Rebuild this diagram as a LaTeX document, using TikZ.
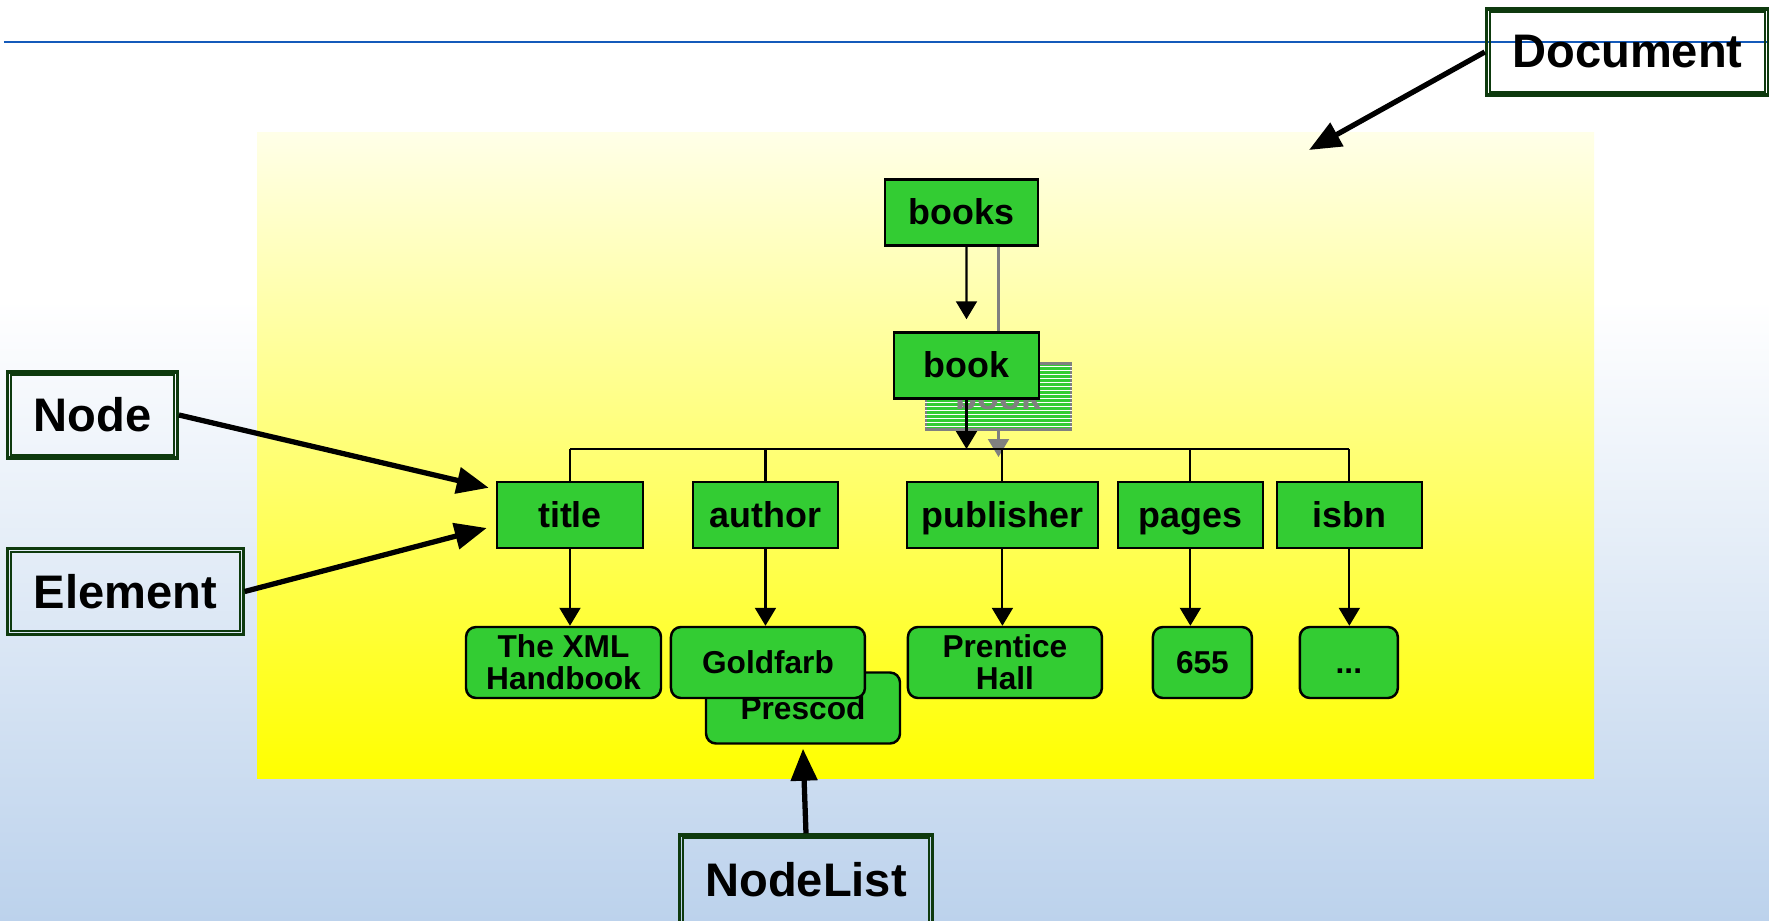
\documentclass[tikz,border=0pt]{standalone}
\usepackage{fontspec}
\setmainfont{Liberation Sans}
\usetikzlibrary{arrows.meta,positioning}
\definecolor{nodeGreen}{RGB}{51,204,51}
\definecolor{frameGreen}{RGB}{14,58,14}
\definecolor{skyBlue}{RGB}{188,210,236}
\definecolor{ruleBlue}{RGB}{20,90,186}
\definecolor{paleYellow}{RGB}{255,255,232}
\definecolor{ghostGray}{RGB}{128,128,128}

\begin{document}
\begin{tikzpicture}[
  element/.style={draw, line width=0.7pt, fill=nodeGreen, minimum width=1.45cm, minimum height=0.66cm, inner sep=0pt, text height=7.6pt, text depth=0.5pt, font=\fontsize{10.2}{12}\selectfont\bfseries},
  leaf/.style={draw, line width=0.7pt, rounded corners=0.1cm, fill=nodeGreen, minimum width=1.94cm, minimum height=0.71cm, inner sep=0pt, align=center, font=\fontsize{9}{9.2}\selectfont\bfseries},
  tagbox/.style={draw=frameGreen, line width=0.9pt, minimum height=0.86cm, inner xsep=0.26cm, font=\fontsize{13.4}{16}\selectfont\bfseries},
  arrow/.style={-{Triangle[length=1.8mm, width=2.1mm]}, line width=0.6pt},
  bigarrow/.style={-{Triangle[length=3.2mm, width=2.6mm]}, line width=1.5pt},
  link/.style={line width=0.6pt}
]
  \useasboundingbox (0,0) rectangle (17.69,-9.21);

  % background and document area
  \fill[white] (0,0) rectangle (17.69,-3.0);
  \shade[top color=white, bottom color=skyBlue] (0,-3.0) rectangle (17.69,-9.21);
  \draw[ruleBlue, line width=0.7pt] (0.04,-0.42) -- (17.69,-0.42);
  \shade[top color=paleYellow, bottom color=yellow] (2.57,-1.33) rectangle (15.94,-7.78);

  % tree
  \node[element, minimum width=1.53cm] (books) at (9.615,-2.125) {books};
  \node[element, draw=ghostGray] (ghost) at (9.985,-3.965) {};
  \foreach \k in {1,...,16}
    \draw[white, line width=0.4pt] ([yshift=-\k*0.4mm]ghost.north west) -- ([yshift=-\k*0.4mm]ghost.north east);
  \node[text=ghostGray, font=\fontsize{10.2}{12}\selectfont\bfseries] (ghosttext) at (ghost) {book};
  \coordinate (bar) at (5.70,-4.49);
  \draw[ghostGray, line width=0.6pt] (books.south -| ghost.north) -- (ghost.north);
  \draw[arrow, ghostGray] (ghost.south) -- ([yshift=-0.08cm]ghost.south |- bar);
  \node[element] (book) at (9.665,-3.655) {book};

  \node[element, minimum width=1.46cm] (title) at (5.70,-5.15) {title};
  \node[element, right=0.475cm of title] (author) {author};
  \node[element, minimum width=1.91cm, right=0.665cm of author] (publisher) {publisher};
  \node[element, right=0.175cm of publisher] (pages) {pages};
  \node[element, right=0.115cm of pages] (isbn) {isbn};

  \node[leaf, minimum width=1.95cm] (xml) at (5.635,-6.625) {The XML\\Handbook};
  \node[leaf] (prescod) at (8.03,-7.08) {Prescod};
  \node[leaf, right=0.075cm of xml] (goldfarb) {Goldfarb};
  \node[leaf, right=0.405cm of goldfarb] (prentice) {Prentice\\Hall};
  \node[leaf, minimum width=0.99cm, right=0.485cm of prentice] (pagesval) {655};
  \node[leaf, minimum width=0.98cm, text height=6.4pt, text depth=0.3pt, right=0.455cm of pagesval] (isbnval) {...};

  \draw[arrow] ([xshift=0.05cm]books.south) -- ([yshift=0.12cm]book.north);
  \draw[arrow] (book.south) -- (book.south |- bar);
  \draw[link] (title.north |- bar) -- (isbn.north |- bar);
  \foreach \e in {title,author,publisher,pages,isbn}
    \draw[link] (\e.north) -- (\e.north |- bar);
  \foreach \e/\v in {title/xml,author/goldfarb,publisher/prentice,pages/pagesval,isbn/isbnval}
    \draw[arrow] (\e.south) -- (\e.south |- \v.north);

  % DOM labels
  \node[tagbox] (tnode) at (0.925,-4.15) {Node};
  \node[tagbox] (telem) at (1.255,-5.915) {Element};
  \node[tagbox, minimum height=0.90cm] (tlist) at (8.06,-8.80) {NodeList};
  \node[tagbox] (tdoc) at (16.275,-0.52) {Document};
  \foreach \t in {tnode,telem,tlist,tdoc}
    \draw[frameGreen, line width=0.6pt] ([shift={(0.05,-0.05)}]\t.north west) rectangle ([shift={(-0.05,0.05)}]\t.south east);
  \coordinate (docarea) at (13.09,-1.50);

  \draw[bigarrow] (tnode.east) -- ([shift={(-0.07,-0.07)}]title.north west);
  \draw[bigarrow] (telem.east) -- ([shift={(-0.09,-0.13)}]title.west);
  \draw[bigarrow] (tlist.north) -- ([yshift=-0.04cm]prescod.south);
  \draw[bigarrow] (tdoc.west) -- (docarea);
\end{tikzpicture}
\end{document}
